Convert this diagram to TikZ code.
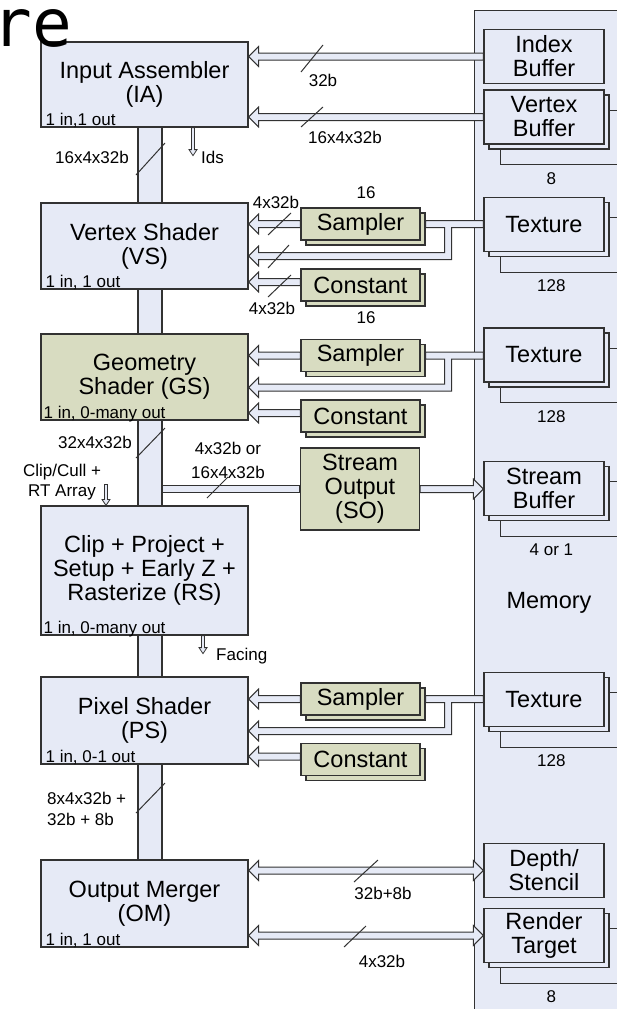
\documentclass[tikz,border=0pt]{standalone}
\usepackage{fontspec}
\setmainfont{Liberation Sans}
\setmonofont{DejaVu Sans Mono}
\usetikzlibrary{calc}
\definecolor{blueF}{RGB}{230,234,246}
\definecolor{greenF}{RGB}{216,220,193}
\definecolor{bd}{RGB}{50,50,50}
\newcommand\fbig{\fontsize{23.5}{24}\selectfont}
\newcommand\fsm{\fontsize{17}{20}\selectfont}
\pgfdeclarelayer{back}
\pgfdeclarelayer{mid}
\pgfsetlayers{back,mid,main}
\tikzset{
  boxline/.style={draw=bd, line width=1.2pt},
  stage/.style={boxline, fill=blueF, minimum width=207pt, inner sep=0pt, align=center, font=\fbig},
  gstage/.style={stage, fill=greenF},
  membox/.style={boxline, fill=blueF, minimum width=120pt, minimum height=54pt, inner sep=0pt, align=center, font=\fbig},
  grbox/.style={boxline, fill=greenF, minimum width=119pt, minimum height=32pt, inner sep=0pt, align=center, font=\fbig},
  note/.style={anchor=base west, inner sep=0pt, font=\fsm},
  lab/.style={inner sep=0pt, font=\fsm, align=center},
  arrowline/.style={draw=bd, fill=blueF, line width=1pt, line join=miter},
  thinl/.style={draw=bd, line width=1pt},
  slash/.style={draw=bd, line width=1pt},
}
% block arrow, head pointing left; y from tail (#1), tip x from #2
\newcommand\blkL[2]{\draw[arrowline] let \p1=(#1), \p2=(#2) in
  (\x2,\y1) -- (\x2+10pt,\y1+10pt) -- (\x2+10pt,\y1+3.5pt) -- (\x1,\y1+3.5pt)
  -- (\x1,\y1-3.5pt) -- (\x2+10pt,\y1-3.5pt) -- (\x2+10pt,\y1-10pt) -- cycle;}
% block arrow, head pointing right
\newcommand\blkR[2]{\draw[arrowline] let \p1=(#1), \p2=(#2) in
  (\x2,\y1) -- (\x2-10pt,\y1+10pt) -- (\x2-10pt,\y1+3.5pt) -- (\x1,\y1+3.5pt)
  -- (\x1,\y1-3.5pt) -- (\x2-10pt,\y1-3.5pt) -- (\x2-10pt,\y1-10pt) -- cycle;}
% double headed block arrow, y from #2
\newcommand\blkLR[2]{\draw[arrowline] let \p1=(#1), \p2=(#2) in
  (\x1,\y2) -- (\x1+10pt,\y2+10pt) -- (\x1+10pt,\y2+3.5pt) -- (\x2-10pt,\y2+3.5pt)
  -- (\x2-10pt,\y2+10pt) -- (\x2,\y2) -- (\x2-10pt,\y2-10pt) -- (\x2-10pt,\y2-3.5pt)
  -- (\x1+10pt,\y2-3.5pt) -- (\x1+10pt,\y2-10pt) -- cycle;}
% texture pipe: #1 sampler back east (y of sampler), #2 texture west, #3 stage east
\newcommand\texpipe[3]{\draw[arrowline] let \p1=(#1), \p2=(#2), \p3=(#3) in
  (\x1,\y1+3.5pt) -- (\x2,\y1+3.5pt) -- (\x2,\y1-3.5pt) -- (\x1+26pt,\y1-3.5pt)
  -- (\x1+26pt,\y1-35.5pt) -- (\x3+10pt,\y1-35.5pt) -- (\x3+10pt,\y1-42pt)
  -- (\x3,\y1-32pt) -- (\x3+10pt,\y1-22pt) -- (\x3+10pt,\y1-28.5pt)
  -- (\x1+19pt,\y1-28.5pt) -- (\x1+19pt,\y1-3.5pt) -- (\x1,\y1-3.5pt) -- cycle;}
% small down arrow
\newcommand\sarrD[2]{\draw[arrowline, line width=0.8pt] let \p1=(#1), \p2=(#2) in
  (\x1-1.5pt,\y1) -- (\x1-1.5pt,\y2+6pt) -- (\x1-4pt,\y2+6pt) -- (\x1,\y2)
  -- (\x1+4pt,\y2+6pt) -- (\x1+1.5pt,\y2+6pt) -- (\x1+1.5pt,\y1) -- cycle;}
% stacked memory box
\newcommand\memstack[4]{%
  \node[membox] (#1b) at (549,#2+5) {};
  \node[membox] (#1) at (544,#2) {#3};
  \draw[thinl] ([xshift=12pt]#1b.south west) -- ++(0,15) coordinate (#1k) -- ++(140,0);
  \draw[thinl] ([yshift=-16pt]#1b.north east) -- ++(20,0);
  \node[lab] (#1n) at ($(#1k)+(51,14)$) {#4};}
% stacked green box
\newcommand\grstack[3]{%
  \node[grbox] (#1b) at (365.5,#2+5) {};
  \node[grbox] (#1) at (360.5,#2) {#3};}

\begin{document}
\begin{tikzpicture}[x=1pt,y=-1pt]
\clip (0,0) rectangle (617,1009);

% pipeline stages
\node[stage, minimum height=85pt] (ia) at (144.5,84.5) {Input Assembler\\(IA)};
\node[stage, minimum height=86pt] (vs) at (144.5,246) {Vertex Shader\\(VS)};
\node[gstage, minimum height=86pt] (gs) at (144.5,377) {Geometry\\Shader (GS)};
\node[stage, minimum height=129pt] (rs) at (144.5,570.5) {Clip + Project +\\Setup + Early Z +\\Rasterize (RS)};
\node[stage, minimum height=87pt] (ps) at (144.5,720.5) {Pixel Shader\\(PS)};
\node[stage, minimum height=87pt] (om) at (144.5,903.5) {Output Merger\\(OM)};

\node[note] (nia) at ([xshift=5pt,yshift=2pt]ia.south west) {1 in,1 out};
\node[note] (nvs) at ([xshift=5pt,yshift=2pt]vs.south west) {1 in, 1 out};
\node[note] (ngs) at ([xshift=3pt,yshift=2pt]gs.south west) {1 in, 0-many out};
\node[note] (nrs) at ([xshift=3pt,yshift=2pt]rs.south west) {1 in, 0-many out};
\node[note] (nps) at ([xshift=5pt,yshift=2pt]ps.south west) {1 in, 0-1 out};
\node[note] (nom) at ([xshift=5pt,yshift=2pt]om.south west) {1 in, 1 out};

% memory side
\node[font=\fbig] (memlabel) at (549,603) {Memory};
\node[membox] (ib) at (544,56.5) {Index\\Buffer};
\memstack{vb}{117}{Vertex\\Buffer}{8}
\memstack{texa}{224.5}{Texture}{128}
\memstack{texb}{355}{Texture}{128}
\memstack{sbuf}{488.5}{Stream\\Buffer}{4 or 1}
\memstack{texc}{699.5}{Texture}{128}
\node[membox] (ds) at (544,870.5) {Depth/\\Stencil};
\memstack{rt}{935.5}{Render\\Target}{8}

% samplers, constants, stream output
\grstack{smpA}{224}{Sampler}
\grstack{cstA}{285}{Constant}
\grstack{smpB}{355.5}{Sampler}
\grstack{cstB}{416}{Constant}
\grstack{smpC}{699}{Sampler}
\grstack{cstC}{759.5}{Constant}
\node[grbox, minimum height=82pt] (so) at (360,489) {Stream\\Output\\(SO)};

\begin{pgfonlayer}{back}
  \node[boxline, fill=blueF, anchor=north west, minimum width=200pt, minimum height=1040pt, inner sep=0pt] (mem) at (474,10) {};
  \coordinate (busL) at ($(ia.south)+(-6.5,0)$);
  \coordinate (busR) at ($(om.north)+(17.5,0)$);
  \draw[boxline, fill=blueF] (busL) rectangle (busR);
\end{pgfonlayer}

\begin{pgfonlayer}{mid}
  \blkL{ib.west}{ia.east}
  \blkL{vb.west}{ia.east}
  \blkL{smpA.west}{vs.east}
  \texpipe{smpAb.east |- smpA.east}{texa.west}{vs.east}
  \blkL{[yshift=3pt]cstA.west}{vs.east}
  \blkL{smpB.west}{gs.east}
  \texpipe{smpBb.east |- smpB.east}{texb.west}{gs.east}
  \blkL{[yshift=3pt]cstB.west}{gs.east}
  \blkL{smpC.west}{ps.east}
  \texpipe{smpCb.east |- smpC.east}{texc.west}{ps.east}
  \blkL{[yshift=3pt]cstC.west}{ps.east}
  \draw[arrowline] let \p1=(busR), \p2=(so.west) in (\x1,\y2+3.5pt) rectangle (\x2,\y2-3.5pt);
  \blkR{so.east}{sbuf.west}
  \blkLR{om.east}{ds.west}
  \blkLR{om.east}{rt.west}
  \coordinate (idsT) at ($(ia.south)+(48.5,0)$);
  \coordinate (idsE) at ($(idsT)+(0,28)$);
  \sarrD{idsT}{idsE}
  \coordinate (ccS) at ($(rs.north)+(-38.5,-21)$);
  \coordinate (ccE) at ($(rs.north)+(-38.5,0)$);
  \sarrD{ccS}{ccE}
  \coordinate (fcS) at ($(rs.south)+(58.5,0)$);
  \coordinate (fcE) at ($(fcS)+(0,18)$);
  \sarrD{fcS}{fcE}
\end{pgfonlayer}

% small arrow labels
\node[lab, anchor=west] (ids) at ($(idsE)+(8,2)$) {Ids};
\node[lab, font=\fontsize{17}{20}\selectfont] (cc) at (62,482) {Clip/Cull +\\RT Array};
\node[lab, anchor=west] (facing) at ($(fcE)+(13,2)$) {Facing};

% width labels
\node[lab] (l1) at (323,80) {32b};
\node[lab] (l2) at (345,137) {16x4x32b};
\node[lab] (l3) at (92,157) {16x4x32b};
\node[lab] (l4) at (276,202) {4x32b};
\node[lab] (l5) at (366,193) {16};
\node[lab] (l6) at (272,308) {4x32b};
\node[lab] (l7) at (366,318) {16};
\node[lab] (l8) at (95,442) {32x4x32b};
\node[lab, font=\fontsize{17}{24}\selectfont] (l9) at (228,460) {4x32b or\\16x4x32b};
\node[lab, align=left, anchor=west, font=\fontsize{17}{21}\selectfont] (l10) at (47,808.5) {8x4x32b +\\32b + 8b};
\node[lab] (l11) at (383,893) {32b+8b};
\node[lab] (l12) at (382,961) {4x32b};

% slashes
\draw[slash] (301,72) -- (323,45);
\draw[slash] (301,127) -- (323,107);
\draw[slash] (136,175) -- (165,143);
\draw[slash] (268,235) -- (291,213);
\draw[slash] (268,268) -- (289,245);
\draw[slash] (268,297) -- (291,275);
\draw[slash] (136,458) -- (165,428);
\draw[slash] (207,498) -- (228,477);
\draw[slash] (136,813) -- (165,783);
\draw[slash] (354,882) -- (378,860);
\draw[slash] (344,947) -- (366,926);

% cropped title fragment, drawn over the IA box as in the reference
\node[font=\fontsize{66}{66}\selectfont\ttfamily, anchor=base east, inner sep=0pt] (title) at (72,46) {re};
\end{tikzpicture}
\end{document}
